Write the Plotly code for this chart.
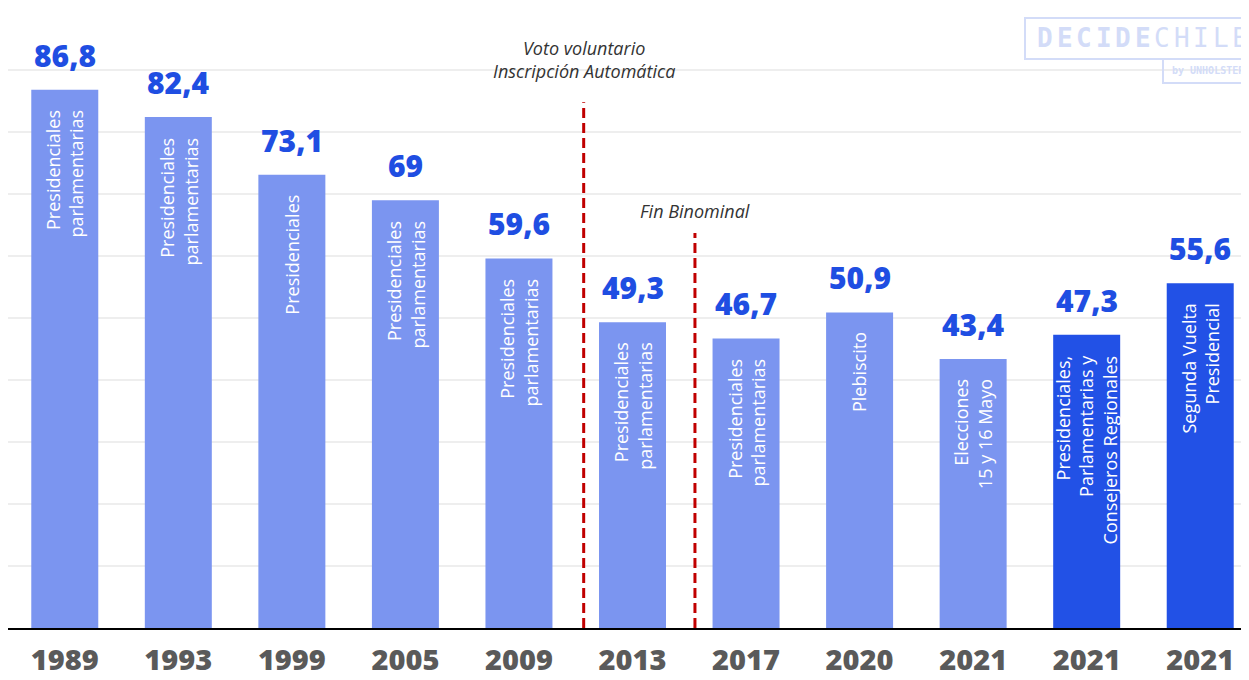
import plotly.graph_objects as go

years = ["1989", "1993", "1999", "2005", "2009", "2013", "2017", "2020", "2021", "2021", "2021"]
values = [86.8, 82.4, 73.1, 69, 59.6, 49.3, 46.7, 50.9, 43.4, 47.3, 55.6]
labels = ["86,8", "82,4", "73,1", "69", "59,6", "49,3", "46,7", "50,9", "43,4", "47,3", "55,6"]
descriptions = [
    "Presidenciales<br>parlamentarias",
    "Presidenciales<br>parlamentarias",
    "Presidenciales",
    "Presidenciales<br>parlamentarias",
    "Presidenciales<br>parlamentarias",
    "Presidenciales<br>parlamentarias",
    "Presidenciales<br>parlamentarias",
    "Plebiscito",
    "Elecciones<br>15 y 16 Mayo",
    "Presidenciales,<br>Parlamentarias y<br>Consejeros Regionales",
    "Segunda Vuelta<br>Presidencial",
]
highlight = [False] * 9 + [True, True]

# reference lines (x position between bars, top value)
ref_lines_x = [4.57, 5.55]
ref_lines_top = [84.8, 63.7]
ref_lines_text = ["Voto voluntario<br>Inscripción Automática", "Fin Binominal"]

LIGHT = "#7B95F0"
DARK = "#2251E6"
VALUE_COLOR = "#1F4EE2"

xs = list(range(len(values)))
fig = go.Figure()
fig.add_trace(go.Bar(
    x=xs, y=values, width=0.59,
    marker=dict(color=[DARK if h else LIGHT for h in highlight], line=dict(width=0)),
    hoverinfo="skip",
))

for x, v, lab, d in zip(xs, values, labels, descriptions):
    fig.add_annotation(x=x, y=v, text=lab, showarrow=False,
                       xanchor="center", yanchor="bottom", yshift=12,
                       font=dict(family="Open Sans", size=30, color=VALUE_COLOR, weight=800))
    fig.add_annotation(x=x, y=v, text=d, showarrow=False, textangle=-90,
                       xanchor="center", yanchor="top", yshift=-18, align="right",
                       font=dict(family="Open Sans", size=18, color="white"))

for lx, top, txt in zip(ref_lines_x, ref_lines_top, ref_lines_text):
    nlines = txt.count("<br>") + 1
    fig.add_shape(type="line", x0=lx, x1=lx, y0=0, y1=top, xref="x", yref="y",
                  line=dict(color="#C00000", width=3, dash="10px,5px"))
    fig.add_annotation(x=lx, y=top, text=txt, showarrow=False, xanchor="center",
                       yanchor="bottom", yshift=8 + 9 * (nlines - 1),
                       font=dict(family="Open Sans", size=18, color="#333333", style="italic"))

# Logo (decoration) in paper coordinates; plot area starts 8px into the page
OX, OY, W, H = 8, 628, 1249, 620
def px(xp):
    return (xp - OX) / W
def py(yp):
    return (OY - yp) / H
LOGO = "#D3DCF8"
fig.add_shape(type="rect", xref="paper", yref="paper", x0=px(1025), x1=px(1262),
              y0=py(59), y1=py(18), line=dict(color=LOGO, width=2), layer="above")
fig.add_shape(type="rect", xref="paper", yref="paper", x0=px(1163), x1=px(1262),
              y0=py(83), y1=py(59), line=dict(color=LOGO, width=2), layer="above")
logo_letters = list("DECIDECHILE")
for i, ch in enumerate(logo_letters):
    fig.add_annotation(xref="paper", yref="paper", x=px(1045 + i * 19.5), y=py(38),
                       text=ch, showarrow=False,
                       xanchor="center", yanchor="middle",
                       font=dict(family="DejaVu Sans Mono", size=26, color=LOGO,
                                 weight=800 if i < 6 else 300))
fig.add_annotation(xref="paper", yref="paper", x=px(1170), y=py(71),
                   text="<b>by UNHOLSTER</b>", showarrow=False,
                   xanchor="left", yanchor="middle",
                   font=dict(family="DejaVu Sans Mono", size=10, color=LOGO))

fig.update_layout(
    width=1249, height=680,
    margin=dict(l=0, r=0, t=0, b=60),
    plot_bgcolor="white", paper_bgcolor="white",
    showlegend=False,
)
fig.update_xaxes(
    range=[-0.5, 10.5], tickmode="array", tickvals=xs, ticktext=years,
    tickfont=dict(family="Open Sans", size=29, color="#5A5A5A", weight=800),
    ticklabelstandoff=5,
    showline=True, linecolor="black", linewidth=2, ticks="", showgrid=False, zeroline=False,
)
fig.update_yaxes(
    range=[0, 100], dtick=10, showgrid=True, gridcolor="#EEEEEE", gridwidth=2,
    showticklabels=False, zeroline=False, showline=False,
)

fig.write_html("out.html")
